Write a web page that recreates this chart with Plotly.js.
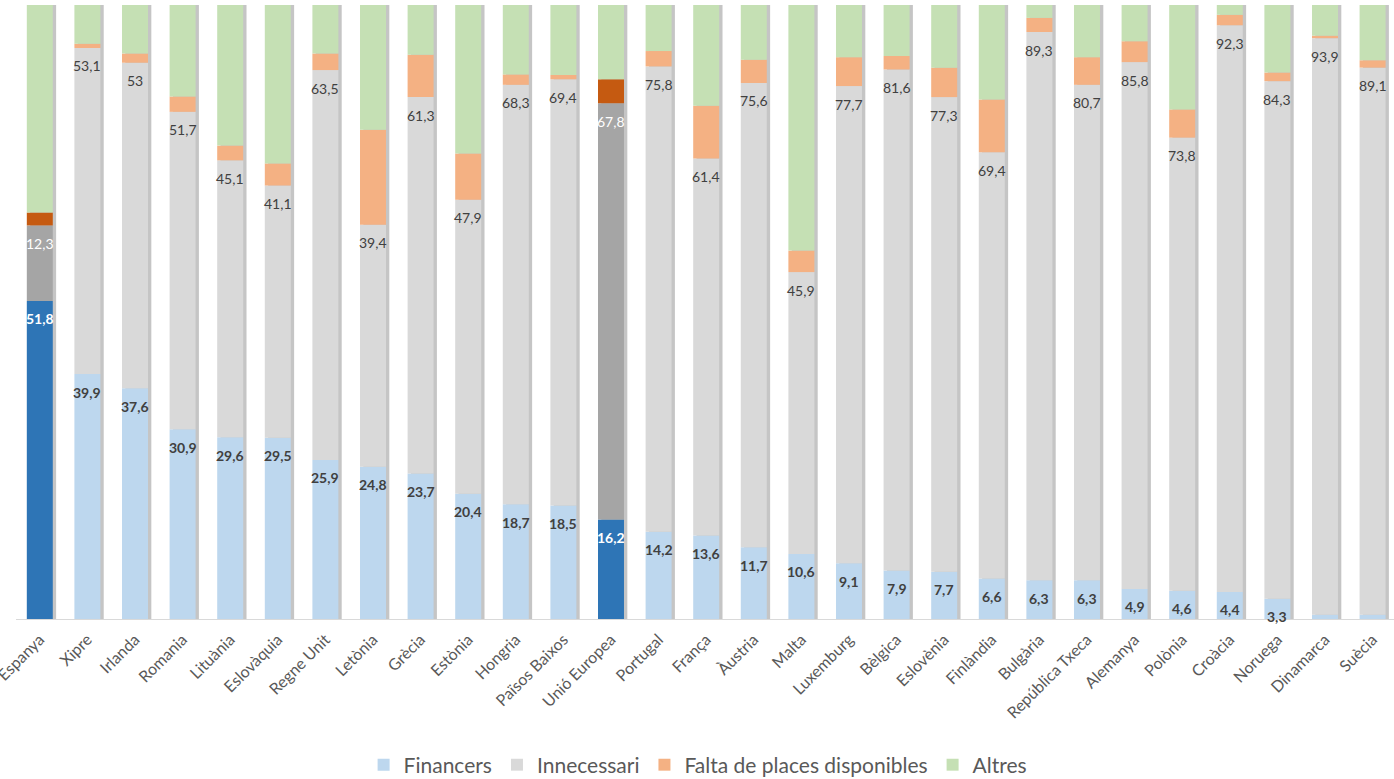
<!DOCTYPE html>
<html><head><meta charset="utf-8">
<script src="https://cdn.plot.ly/plotly-3.0.1.min.js"></script>
<style>html,body{margin:0;padding:0;background:#fff}#chart{width:1394px;height:779px}</style>
</head><body><div id="chart"></div>
<script>
const categories = ["Espanya","Xipre","Irlanda","Romania","Lituània","Eslovàquia","Regne Unit","Letònia","Grècia","Estònia","Hongria","Països Baixos","Unió Europea","Portugal","França","Àustria","Malta","Luxemburg","Bèlgica","Eslovènia","Finlàndia","Bulgària","República Txeca","Alemanya","Polònia","Croàcia","Noruega","Dinamarca","Suècia"];
const financers = [51.8,39.9,37.6,30.9,29.6,29.5,25.9,24.8,23.7,20.4,18.7,18.5,16.2,14.2,13.6,11.7,10.6,9.1,7.9,7.7,6.6,6.3,6.3,4.9,4.6,4.4,3.3,0.7,0.7];
const innecessari = [12.3,53.1,53,51.7,45.1,41.1,63.5,39.4,61.3,47.9,68.3,69.4,67.8,75.8,61.4,75.6,45.9,77.7,81.6,77.3,69.4,89.3,80.7,85.8,73.8,92.3,84.3,93.9,89.1];
const faltaPlaces = [2.1,0.7,1.5,2.5,2.4,3.6,2.7,15.5,6.9,7.5,1.7,0.7,3.9,2.5,8.6,3.8,3.5,4.7,2.2,4.8,8.6,2.3,4.5,3.4,4.6,1.7,1.4,0.4,1.2];
const altres = [33.8,6.3,7.9,14.9,22.9,25.8,7.9,20.3,8.1,24.2,11.3,11.4,12.1,7.5,16.4,8.9,40.0,8.5,8.3,10.2,15.4,2.1,8.5,5.9,17.0,1.6,11.0,5.0,9.0];
const highlighted = ["Espanya","Unió Europea"];

const seriesNames = ["Financers","Innecessari","Falta de places disponibles","Altres"];
const lightColors = ["#BDD7EE","#D9D9D9","#F4B183","#C5E0B4"];
const darkColors  = ["#2E75B6","#A5A5A5","#C55A11","#C5E0B4"];

const series = [financers, innecessari, faltaPlaces, altres];
const isHi = categories.map(c => highlighted.includes(c));
const W = 0.546;
const shadowShift = 0.07;

const traces = [];
const bases = [];
let run = categories.map(() => 0);
series.forEach((s, k) => {
  bases.push(run.slice());
  run = run.map((v, i) => v + s[i]);
});
const totals = run;

traces.push({
  type: 'bar', x: categories, y: totals, base: categories.map(() => 0),
  width: W, offset: -W/2 + shadowShift,
  marker: {color: 'rgba(90,90,90,0.35)', line: {width: 0}},
  showlegend: false, hoverinfo: 'skip'
});
series.forEach((s, k) => {
  traces.push({
    type: 'bar', x: categories, y: s, base: bases[k], name: seriesNames[k],
    width: W, offset: -W/2,
    marker: {color: categories.map((c, i) => isHi[i] ? darkColors[k] : lightColors[k]), line: {width: 0}},
    showlegend: false
  });
});
seriesNames.forEach((n, k) => {
  traces.push({type: 'bar', x: [categories[0]], y: [null], name: n, marker: {color: lightColors[k]}, showlegend: true});
});

const fmt = v => String(v).replace('.', ',');
const annotations = [];
categories.forEach((c, i) => {
  if (financers[i] >= 2) {
    annotations.push({x: c, y: financers[i], xref: 'x', yref: 'y', text: fmt(financers[i]),
      showarrow: false, yanchor: 'middle', yshift: -18,
      font: {family: 'Lato, "Noto Sans", sans-serif', size: 14, weight: 'bold', color: isHi[i] ? '#FFFFFF' : '#404040'}});
  }
  annotations.push({x: c, y: financers[i] + innecessari[i], xref: 'x', yref: 'y', text: fmt(innecessari[i]),
    showarrow: false, yanchor: 'middle', yshift: -18,
    font: {family: 'Lato, "Noto Sans", sans-serif', size: 14, color: isHi[i] ? '#FFFFFF' : '#404040'}});
});

const layout = {
  width: 1394, height: 779,
  margin: {l: 16, r: 0, t: 5, b: 160, autoexpand: false},
  barmode: 'overlay',
  paper_bgcolor: '#fff', plot_bgcolor: '#fff',
  font: {family: 'Lato, "Noto Sans", sans-serif', color: '#595959'},
  xaxis: {range: [-0.5, 28.45], tickangle: -45, showline: true, linecolor: '#D9D9D9', linewidth: 1,
    showgrid: false, zeroline: false, ticks: '', tickfont: {size: 16, color: '#595959'}, fixedrange: true,
    automargin: false, ticklabelstandoff: 4},
  yaxis: {range: [0, 100], visible: false, showgrid: false, zeroline: false, fixedrange: true, automargin: false},
  legend: {orientation: 'h', x: 0.495, xanchor: 'center', y: -0.2378, yanchor: 'middle',
    font: {size: 21, color: '#595959'}, traceorder: 'normal', bgcolor: 'rgba(0,0,0,0)'},
  annotations: annotations,
  showlegend: true
};
Plotly.newPlot('chart', traces, layout, {displayModeBar: false, staticPlot: true});
</script></body></html>
